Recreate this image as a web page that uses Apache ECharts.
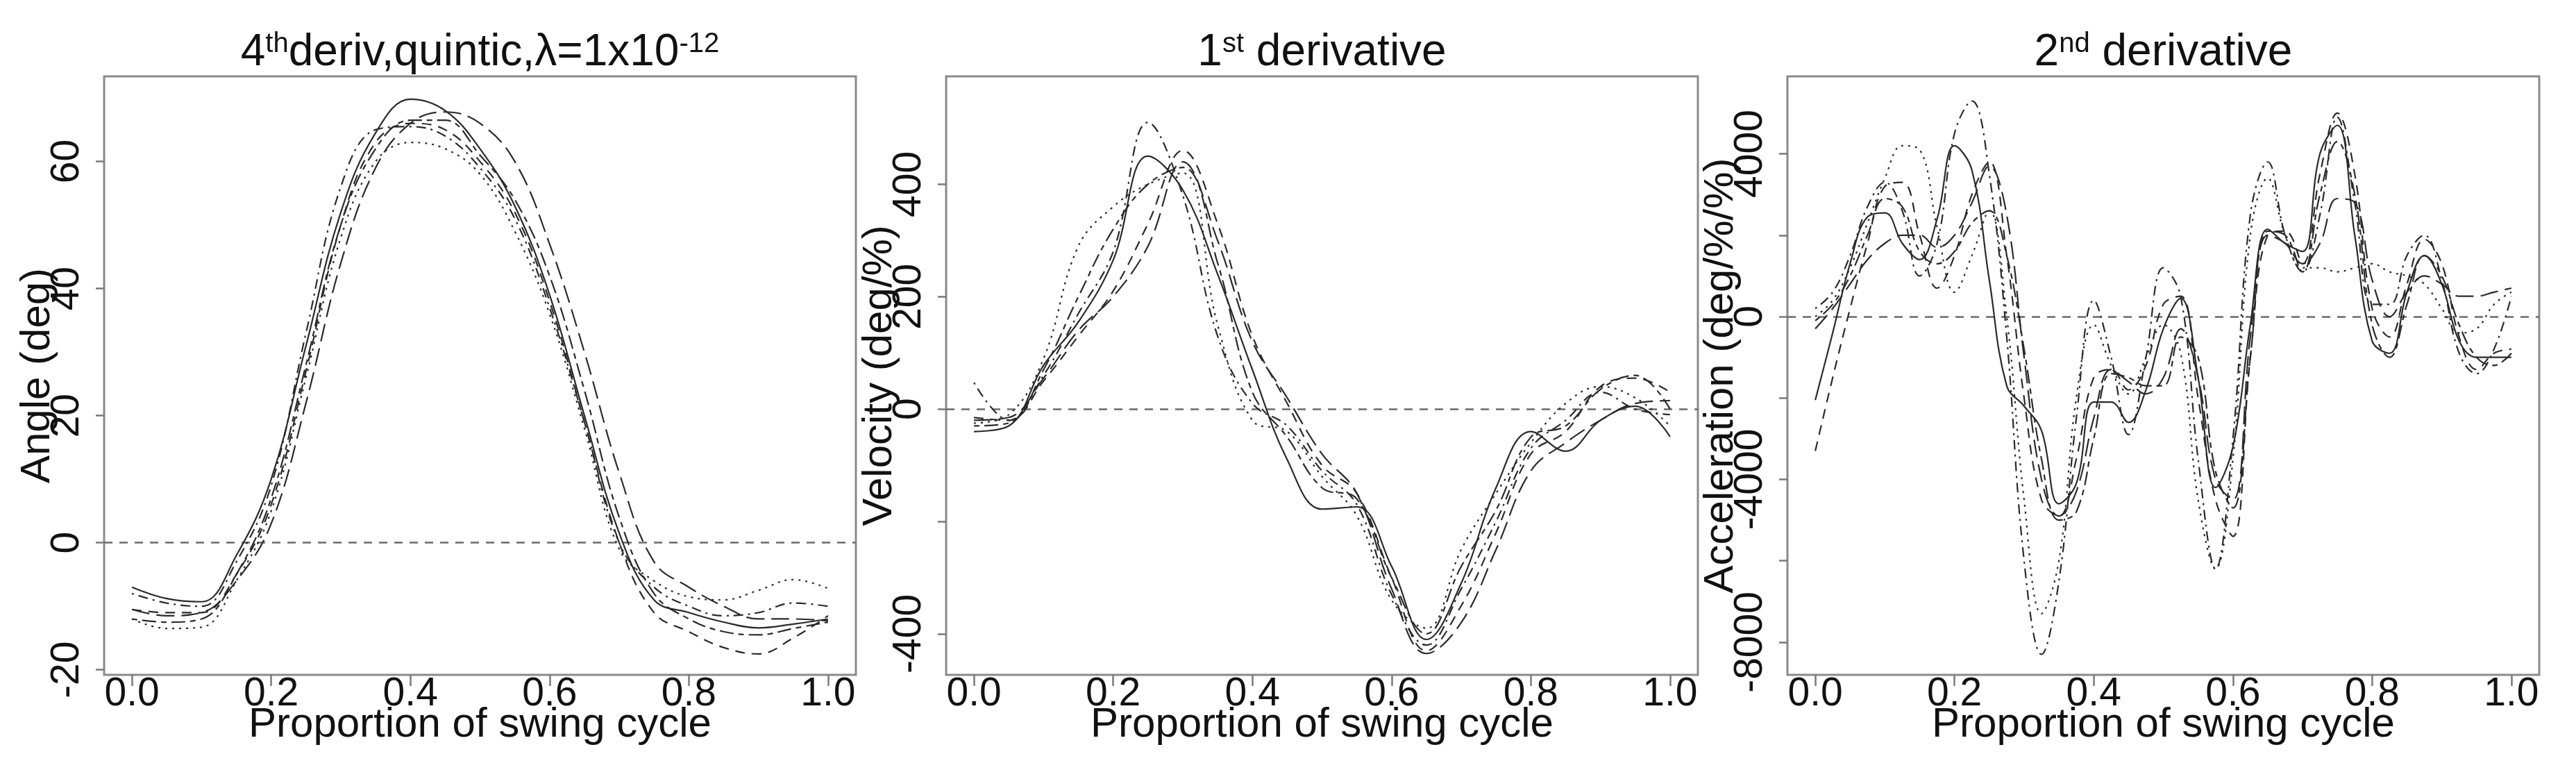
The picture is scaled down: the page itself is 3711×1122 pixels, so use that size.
<!DOCTYPE html>
<html><head><meta charset="utf-8">
<script src="https://cdn.jsdelivr.net/npm/echarts@6/dist/echarts.min.js"></script>
<style>html,body{margin:0;padding:0;background:#fff}#c{width:3711px;height:1122px}</style>
</head><body><div id="c"></div>
<script>
// ---------- data ----------
const xTicks = [0, 0.2, 0.4, 0.6, 0.8, 1.0];
const yTicksAngle = [-20, 0, 20, 40, 60];
const yLabelsAngle = [-20, 0, 20, 40, 60];
const yTicksVel = [-400, -200, 0, 200, 400];
const yLabelsVel = [-400, 0, 200, 400];
const yTicksAcc = [-8000, -6000, -4000, -2000, 0, 2000, 4000];
const yLabelsAcc = [-8000, -4000, 0, 4000];

const titles = ['4{a|th}deriv,quintic,λ=1x10{b|-12}', '1{a|st} derivative', '2{a|nd} derivative'];
const xName = 'Proportion of swing cycle';
const yNames = ['Angle (deg)', 'Velocity (deg/%)', 'Acceleration (deg/%/%)'];

const xs1 = [0, 0.05, 0.1, 0.15, 0.2, 0.25, 0.3, 0.35, 0.4, 0.45, 0.5, 0.55, 0.6, 0.65, 0.7, 0.75, 0.8, 0.85, 0.9, 0.95, 1.0];
const xs3 = [0, 0.025, 0.05, 0.075, 0.1, 0.125, 0.15, 0.175, 0.2, 0.225, 0.25, 0.275, 0.3, 0.325, 0.35, 0.375, 0.4, 0.425, 0.45, 0.475, 0.5, 0.525, 0.55, 0.575, 0.6, 0.625, 0.65, 0.675, 0.7, 0.725, 0.75, 0.775, 0.8, 0.825, 0.85, 0.875, 0.9, 0.925, 0.95, 0.975, 1.0];

// angle curves
const ang1 = [-7, -8.8, -9.3, -2, 10, 31, 52, 64.5, 69.8, 68, 62, 53, 39, 20, 1.5, -9, -11, -12.5, -13.4, -12.8, -12];
const ang2 = [-10.5, -11, -11, -5, 6, 27, 50, 63, 66, 65, 60, 52, 38, 19, 0, -11, -14, -16.5, -17.5, -15, -11.5];
const ang3 = [-12, -13.5, -13.3, -6, 5, 26, 48, 60, 63, 62, 58, 49, 36, 18, -1, -6, -8.5, -9, -7.5, -5.8, -7.2];
const ang4 = [-8, -9.5, -10, -3, 9, 33, 56, 65, 65.5, 64, 59, 51, 37, 19, 0, -7, -10, -11.5, -11, -9.5, -10];
const ang5 = [-10.5, -11.5, -11, -6, 3, 22, 44, 59, 66, 67.8, 66, 60, 47, 30, 11, -3, -7, -10, -12, -12, -12.3];
const ang6 = [-12, -12.5, -12, -5, 7, 28, 50, 62, 66.5, 66.5, 61, 54, 42, 24, 4, -8, -12, -14, -14.5, -13.5, -12.5];

// velocity curves
const vel1 = [-40, -30, 78, 155, 265, 450, 390, 240, 70, -90, -178, -174, -280, -410, -310, -140, -40, -75, -20, 5, -49];
const vel2 = [-15, -20, 50, 130, 210, 330, 460, 330, 130, 10, -100, -150, -300, -430, -350, -220, -80, -40, 40, 55, 30];
const vel3 = [-25, -10, 90, 290, 360, 400, 420, 150, -20, -40, -120, -190, -340, -390, -250, -150, -60, 10, 40, 20, -30];
const vel4 = [47, -20, 60, 170, 280, 510, 380, 130, 10, -30, -110, -170, -330, -420, -320, -200, -70, -20, 30, 0, -10];
const vel5 = [-20, -15, 55, 140, 200, 290, 440, 300, 120, 20, -80, -150, -320, -435, -380, -250, -110, -60, -20, 10, 15];
const vel6 = [-30, -25, 70, 200, 320, 400, 430, 260, 30, -50, -140, -160, -300, -400, -280, -180, -50, -30, 35, 60, 0];

// acceleration curves
const acc1 = [-2050, -400, 1300, 2450, 2550, 1800, 1400, 2400, 4200, 3600, 900, -1700, -2200, -2800, -4600, -4100, -2100, -2100, -2600, -1800, -300, 450, -1500, -4200, -3200, -200, 2150, 1800, 1600, 4000, 4700, 2000, -600, -900, 600, 1500, 800, -600, -1000, -1000, -1000];
const acc2 = [-3300, -1500, 200, 1800, 3200, 3300, 2000, 700, 1500, 3000, 3800, 1500, -2000, -4500, -4900, -3500, -1500, -1300, -1800, -1200, 300, 500, -2000, -4500, -5400, -1000, 2000, 2100, 1300, 3500, 5000, 3500, 200, -500, 800, 1900, 1300, -500, -1300, -900, -800];
const acc3 = [0, 400, 1200, 2300, 3400, 4200, 4100, 2200, 600, 1500, 2600, 0, -4500, -7300, -6000, -2000, -200, -1200, -1900, -1000, -200, -900, -4500, -6200, -3500, 2000, 3400, 2000, 1200, 1200, 1100, 1200, 1300, 1100, 1000, 800, 200, -400, -300, 300, 600];
const acc4 = [200, 600, 1500, 2700, 3300, 2600, 1000, 1800, 4500, 5300, 3500, -500, -6000, -8300, -6500, -2500, 400, -1000, -2900, -1000, 1200, 500, -3500, -6200, -3000, 2500, 3800, 2000, 1100, 2500, 4900, 2800, 300, 300, 1500, 2000, 900, -900, -1400, -800, 500];
const acc5 = [-300, 200, 800, 1400, 1800, 2000, 2000, 1700, 2000, 2800, 3700, 2500, -1000, -4000, -4900, -4300, -2500, -1300, -1600, -1900, -1500, -300, -1500, -4000, -4500, -500, 2000, 1800, 1300, 1800, 2900, 2800, 900, 0, 600, 1000, 800, 500, 500, 600, 700];
const acc6 = [-100, 300, 1000, 2000, 2900, 2700, 1600, 1300, 1600, 2300, 2600, 1500, -800, -3500, -5000, -4800, -3000, -1400, -1500, -1700, -1700, -500, -1000, -3800, -4700, -1000, 2100, 2000, 1100, 3000, 4300, 3000, -200, -1000, 300, 1500, 1000, -200, -1000, -1200, -900];

const panels = [
  {xs: xs1, curves: [ang1, ang2, ang3, ang4, ang5, ang6], min: -20.8, max: 73.4, ticks: yTicksAngle, labels: yLabelsAngle},
  {xs: xs1, curves: [vel1, vel2, vel3, vel4, vel5, vel6], min: -473, max: 592, ticks: yTicksVel, labels: yLabelsVel},
  {xs: xs3, curves: [acc1, acc2, acc3, acc4, acc5, acc6], min: -8803, max: 5903, ticks: yTicksAcc, labels: yLabelsAcc}
];

// ---------- styles ----------
const FONT = "'Liberation Sans', Arial, sans-serif";
const dashes = ['solid', [14, 10], [3, 7], [3, 7, 14, 7], [26, 10], [8, 7, 20, 7]];
const gridLefts = [150, 1363, 2575];
const gridW = 1083, gridTop = 110, gridH = 862;

const grids = [], xAxes = [], yAxes = [], series = [], titleArr = [];
panels.forEach((p, i) => {
  grids.push({left: gridLefts[i], top: gridTop, width: gridW, height: gridH, show: true,
    borderColor: '#8a8a8a', borderWidth: 3, backgroundColor: 'transparent'});
  xAxes.push({type: 'value', gridIndex: i, min: -0.04, max: 1.04, position: 'bottom',
    axisLine: {show: false, onZero: false}, splitLine: {show: false},
    axisTick: {show: true, customValues: xTicks, length: 16, lineStyle: {color: '#7a7a7a', width: 2.5}},
    axisLabel: {customValues: xTicks, formatter: v => v.toFixed(1), fontSize: 57, color: '#111', margin: 0, fontFamily: FONT},
    name: xName, nameLocation: 'middle', nameGap: 42, nameMoveOverlap: false,
    nameTextStyle: {fontSize: 60, color: '#111', fontFamily: FONT}});
  yAxes.push({type: 'value', gridIndex: i, min: p.min, max: p.max, position: 'left',
    axisLine: {show: false, onZero: false}, splitLine: {show: false},
    axisTick: {show: true, customValues: p.ticks, length: 12, lineStyle: {color: '#7a7a7a', width: 2.5}},
    axisLabel: {customValues: p.labels, formatter: v => String(v), rotate: 90, fontSize: 57, color: '#111', margin: 24, fontFamily: FONT},
    name: yNames[i], nameLocation: 'middle', nameGap: 66, nameMoveOverlap: false,
    nameTextStyle: {fontSize: 60, color: '#111', fontFamily: FONT}});
  titleArr.push({text: titles[i], left: gridLefts[i] + gridW / 2, top: 44, textAlign: 'center', padding: 0,
    textStyle: {fontSize: 64, fontWeight: 'normal', color: '#111', fontFamily: FONT, lineHeight: 64,
      rich: {a: {fontSize: 40, lineHeight: 40, verticalAlign: 'top', fontFamily: FONT, color: '#111'},
             b: {fontSize: 40, lineHeight: 30, verticalAlign: 'top', fontFamily: FONT, color: '#111'}}}});
  p.curves.forEach((ys, k) => {
    const s = {type: 'line', xAxisIndex: i, yAxisIndex: i, smooth: 0.4, showSymbol: false, silent: true,
      data: p.xs.map((x, j) => [x, ys[j]]),
      lineStyle: {color: '#2a2a2a', width: 2.2, type: dashes[k]}, z: 3};
    if (k === 0) {
      s.markLine = {silent: true, symbol: 'none', label: {show: false},
        lineStyle: {color: '#6a6a6a', type: [12, 10], width: 2.5}, data: [{yAxis: 0}], z: 2};
    }
    series.push(s);
  });
});

const chart = echarts.init(document.getElementById('c'), null, {renderer: 'canvas'});
chart.setOption({animation: false, backgroundColor: '#fff', title: titleArr, grid: grids, xAxis: xAxes, yAxis: yAxes, series: series});
</script></body></html>
